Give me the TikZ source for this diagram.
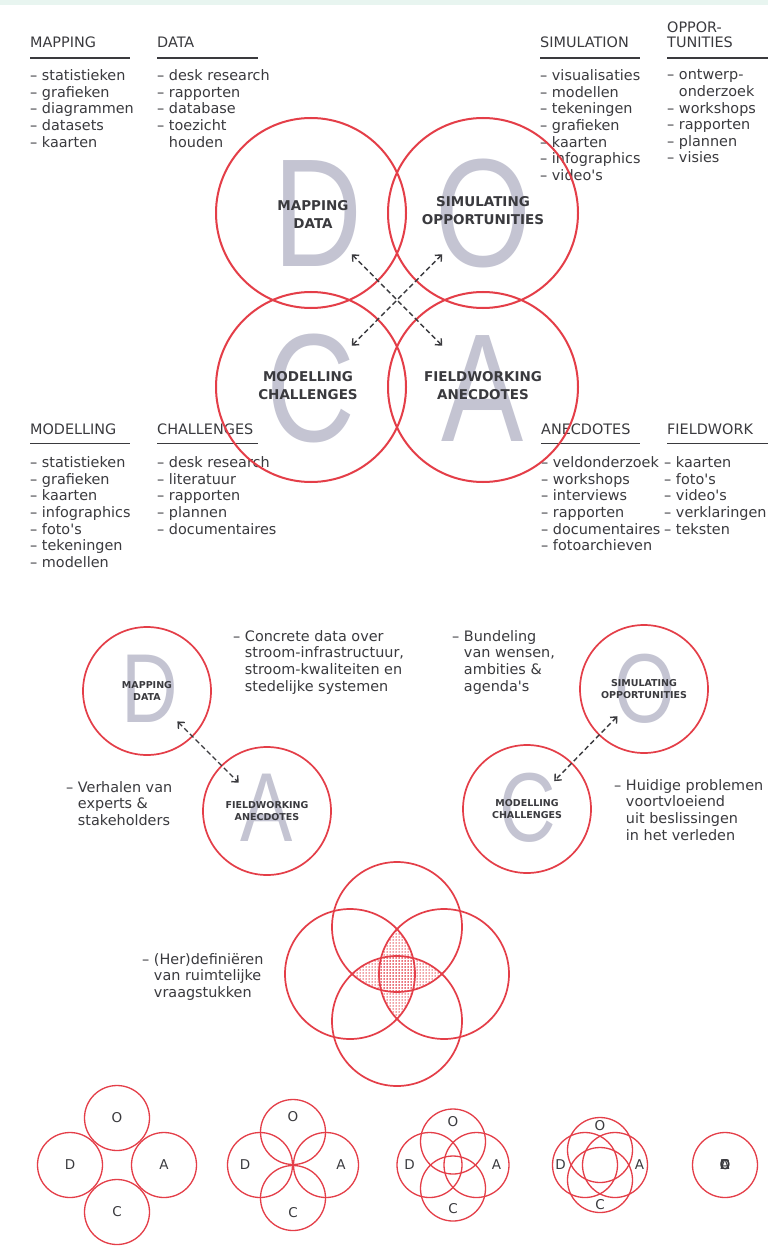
\documentclass[tikz,border=0pt]{standalone}
\usepackage{fontspec}
\setmainfont{DejaVu Sans}
\setsansfont{DejaVu Sans}
\newfontfamily\letterfont{Liberation Sans}
\definecolor{doared}{RGB}{228,62,72}
\definecolor{doagrey}{RGB}{196,196,210}
\definecolor{doatext}{RGB}{58,58,62}
\definecolor{doamint}{RGB}{232,245,240}
\tikzset{every picture/.style={/utils/exec={\sffamily}}}
\usetikzlibrary{positioning}
\usetikzlibrary{patterns.meta,arrows.meta}

\newcommand{\ap}{\textquotesingle}
\newcommand{\ind}{\hphantom{– }}

\begin{document}
\begin{tikzpicture}[x=1pt,y=-1pt,
  ring/.style={draw=doared, line width=2pt, circle, minimum size=190pt, inner sep=0pt},
  midring/.style={draw=doared, line width=1.7pt, circle, minimum size=128pt, inner sep=0pt},
  bigletter/.style={text=doagrey, inner sep=0pt, anchor=base, xscale=0.8, font=\letterfont\fontsize{154}{154}\selectfont},
  midletter/.style={bigletter, font=\letterfont\fontsize{98}{98}\selectfont},
  biglabel/.style={text=doatext, align=center, inner sep=0pt, font=\bfseries\fontsize{13.5}{18}\selectfont},
  midlabel/.style={biglabel, font=\bfseries\fontsize{9.5}{12.5}\selectfont},
  listhead/.style={text=doatext, anchor=south west, align=left, inner sep=0pt, font=\fontsize{14.4}{15.5}\selectfont},
  listbody/.style={text=doatext, anchor=north west, align=left, inner sep=0pt, font=\fontsize{14.4}{16.6}\selectfont},
  headrule/.style={draw=doatext, line width=1.5pt},
  linkarrow/.style={{Straight Barb[length=5pt,width=9pt]}-{Straight Barb[length=5pt,width=9pt]}, draw=doatext, line width=1.4pt, dash pattern=on 5pt off 3pt},
  dotfill/.style={pattern={Dots[distance=3pt,radius=0.75pt]}, pattern color=doared},
  rowring/.style={draw=doared, line width=1.3pt},
  rowletter/.style={text=doatext, inner sep=0pt, font=\fontsize{13.5}{13.5}\selectfont}]

  \useasboundingbox (0,0) rectangle (768,1246);
  \fill[white] (0,0) rectangle (768,1246);
  \fill[doamint] (0,0) rectangle (768,5);

  % grey initials behind the rings
  \node[bigletter] (dlet) at (318,267) {D};
  \node[bigletter] (olet) at (483,267) {O};
  \node[bigletter] (clet) at (311,441) {C};
  \node[bigletter] (alet) at (483,441) {A};

  % lists on top
  \node[listhead] (hmap) at (30,48) {MAPPING};
  \node[listhead] (hdat) at (157,48) {DATA};
  \node[listhead] (hsim) at (540,48) {SIMULATION};
  \node[listhead] (hopp) at (667,48) {OPPOR-\\TUNITIES};
  \draw[headrule] (30,58) -- (130,58);
  \draw[headrule] (157,58) -- (258,58);
  \draw[headrule] (540,58) -- (640,58);
  \draw[headrule] (667,58) -- (768,58);

  \node[listbody] (lmap) at (30,69.6) {– statistieken\\– grafieken\\– diagrammen\\– datasets\\– kaarten};
  \node[listbody] (ldat) at (157,69.6) {– desk research\\– rapporten\\– database\\– toezicht\\\ind houden};
  \node[listbody] (lsim) at (540,69.6) {– visualisaties\\– modellen\\– tekeningen\\– grafieken\\– kaarten\\– infographics\\– video\ap s};
  \node[listbody] (lopp) at (667,69.6) {– ontwerp-\\\ind onderzoek\\– workshops\\– rapporten\\– plannen\\– visies};

  % lists below
  \node[listhead] (hmod) at (30,435) {MODELLING};
  \node[listhead] (hcha) at (157,435) {CHALLENGES};
  \node[listhead] (hane) at (541,435) {ANECDOTES};
  \node[listhead] (hfie) at (667,435) {FIELDWORK};
  \draw[headrule] (30,443.5) -- (130,443.5);
  \draw[headrule] (157,443.5) -- (258,443.5);
  \draw[headrule] (541,443.5) -- (640,443.5);
  \draw[headrule] (667,443.5) -- (768,443.5);

  \node[listbody] (lmod) at (30,456.6) {– statistieken\\– grafieken\\– kaarten\\– infographics\\– foto\ap s\\– tekeningen\\– modellen};
  \node[listbody] (lcha) at (157,456.6) {– desk research\\– literatuur\\– rapporten\\– plannen\\– documentaires};
  \node[listbody] (lane) at (541,456.6) {– veldonderzoek\\– workshops\\– interviews\\– rapporten\\– documentaires\\– fotoarchieven};
  \node[listbody] (lfie) at (664,456.6) {– kaarten\\– foto\ap s\\– video\ap s\\– verklaringen\\– teksten};

  % the four rings
  \node[ring] (dbig) at (311,213) {};
  \node[ring] (obig) at (483,213) {};
  \node[ring] (cbig) at (311,387) {};
  \node[ring] (abig) at (483,387) {};
  \node[biglabel] (dlab) at (313,214) {MAPPING\\DATA};
  \node[biglabel] (olab) at (483,211) {SIMULATING\\OPPORTUNITIES};
  \node[biglabel] (clab) at (308,386) {MODELLING\\CHALLENGES};
  \node[biglabel] (alab) at (483,386) {FIELDWORKING\\ANECDOTES};
  \draw[linkarrow, shorten <=58pt, shorten >=58pt] (dbig.center) -- (abig.center);
  \draw[linkarrow, shorten <=58pt, shorten >=58pt] (obig.center) -- (cbig.center);

  % pairs
  \node[midletter] (dsm) at (150,722) {D};
  \node[midletter] (asm) at (267,841) {A};
  \node[midletter] (osm) at (645,722) {O};
  \node[midletter] (csm) at (528,841) {C};
  \node[midring] (dmid) at (147,691) {};
  \node[midring] (amid) at (267,811) {};
  \node[midring] (omid) at (644,689) {};
  \node[midring] (cmid) at (527,809) {};
  \node[midlabel] (dmlab) at (dmid) {MAPPING\\DATA};
  \node[midlabel] (amlab) at (amid) {FIELDWORKING\\ANECDOTES};
  \node[midlabel] (omlab) at (omid) {SIMULATING\\OPPORTUNITIES};
  \node[midlabel] (cmlab) at (cmid) {MODELLING\\CHALLENGES};
  \draw[linkarrow, shorten <=43pt, shorten >=40pt] (dmid.center) -- (amid.center);
  \draw[linkarrow, shorten <=38pt, shorten >=39pt] (omid.center) -- (cmid.center);

  \node[listbody] (tconc) at (233,630.1) {– Concrete data over\\\ind stroom-infrastructuur,\\\ind stroom-kwaliteiten en\\\ind stedelijke systemen};
  \node[listbody] (tverh) at (66,781.1) {– Verhalen van\\\ind experts \&\\\ind stakeholders};
  \node[listbody] (tbund) at (452,630.1) {– Bundeling\\\ind van wensen,\\\ind ambities \&\\\ind agenda\ap s};
  \node[listbody] (thuid) at (614,779.1) {– Huidige problemen\\\ind voortvloeiend\\\ind uit beslissingen\\\ind in het verleden};

  % overlap of all four
  \begin{scope}
    \clip (397,927) circle[radius=65];
    \fill[dotfill] (397,1021) circle[radius=65];
  \end{scope}
  \begin{scope}
    \clip (350,974) circle[radius=65];
    \fill[dotfill] (444,974) circle[radius=65];
  \end{scope}
  \foreach \vx/\vy in {397/927,350/974,444/974,397/1021}
    \draw[doared, line width=1.7pt] (\vx,\vy) circle[radius=65];
  \node[listbody] (therd) at (142,953.1) {– (Her)definiëren\\\ind van ruimtelijke\\\ind vraagstukken};

  % row of steps
  \foreach \gx/\off/\lab [count=\g] in {117/47/47,293/33/48,453/23.5/43.5,600/15/39.5}{
    \draw[rowring] (\gx,1165-\off) circle[radius=32.5];
    \draw[rowring] (\gx-\off,1165) circle[radius=32.5];
    \draw[rowring] (\gx+\off,1165) circle[radius=32.5];
    \draw[rowring] (\gx,1165+\off) circle[radius=32.5];
    \node[rowletter] (ro\g) at (\gx,1165-\lab) {O};
    \node[rowletter] (rd\g) at (\gx-\lab,1165) {D};
    \node[rowletter] (ra\g) at (\gx+\lab,1165) {A};
    \node[rowletter] (rc\g) at (\gx,1165+\lab) {C};
  }
  \draw[rowring] (725,1165) circle[radius=32.5];
  \foreach \l in {D,O,A,C}
    \node[rowletter] (rl\l) at (725,1165) {\l};

\end{tikzpicture}
\end{document}
